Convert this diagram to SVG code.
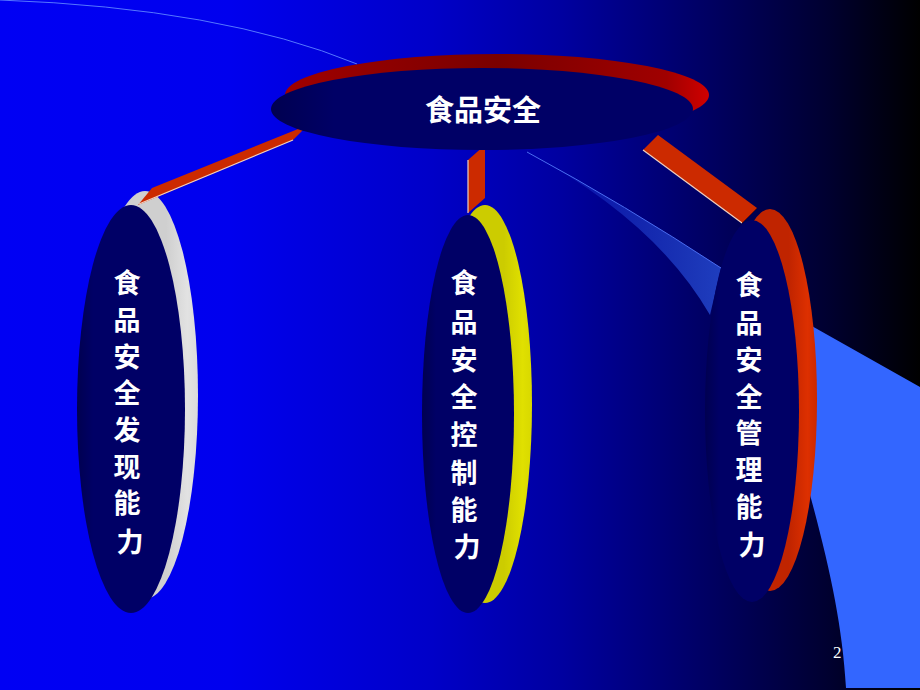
<svg xmlns="http://www.w3.org/2000/svg" width="920" height="690" viewBox="0 0 920 690">
<defs>
<linearGradient id="bg" x1="0" y1="0" x2="920" y2="0" gradientUnits="userSpaceOnUse">
<stop offset="0" stop-color="#0000f4"/>
<stop offset="0.25" stop-color="#0000ee"/>
<stop offset="0.47" stop-color="#0000c8"/>
<stop offset="0.61" stop-color="#0000a0"/>
<stop offset="0.76" stop-color="#000066"/>
<stop offset="0.9" stop-color="#000030"/>
<stop offset="1" stop-color="#000000"/>
</linearGradient>
<linearGradient id="wedge" x1="527" y1="0" x2="720" y2="0" gradientUnits="userSpaceOnUse">
<stop offset="0" stop-color="#3366ff" stop-opacity="0.05"/>
<stop offset="1" stop-color="#3366ff" stop-opacity="0.6"/>
</linearGradient>
<linearGradient id="rimTop" x1="0" y1="0" x2="1" y2="0">
<stop offset="0" stop-color="#a00000"/>
<stop offset="0.5" stop-color="#7a0000"/>
<stop offset="0.9" stop-color="#a00000"/>
<stop offset="1" stop-color="#d00000"/>
</linearGradient>
<linearGradient id="rimGray" x1="0" y1="0" x2="1" y2="0">
<stop offset="0.7" stop-color="#cfcfcf"/>
<stop offset="0.9" stop-color="#e2e2e2"/>
<stop offset="1" stop-color="#dadada"/>
</linearGradient>
<linearGradient id="rimYellow" x1="0" y1="0" x2="1" y2="0">
<stop offset="0.7" stop-color="#cccc00"/>
<stop offset="0.9" stop-color="#e0e000"/>
<stop offset="1" stop-color="#d8d800"/>
</linearGradient>
<linearGradient id="rimRed" x1="0" y1="0" x2="1" y2="0">
<stop offset="0.7" stop-color="#c02400"/>
<stop offset="0.9" stop-color="#dd3000"/>
<stop offset="1" stop-color="#cc2800"/>
</linearGradient>
<linearGradient id="face" x1="0" y1="0" x2="1" y2="0">
<stop offset="0" stop-color="#000050"/>
<stop offset="0.15" stop-color="#000066"/>
<stop offset="1" stop-color="#000066"/>
</linearGradient>
</defs>
<style>
.face{fill:url(#face);}
.lbl{font-family:"Noto Sans CJK SC","Noto Sans CJK TC",sans-serif;font-weight:bold;fill:#ffffff;text-anchor:middle;}
.bar{fill:#cc2a00;}
.hl{stroke:#f0d0c0;stroke-width:1.2;fill:none;}
</style>

<!-- background -->
<rect x="0" y="0" width="920" height="690" fill="url(#bg)"/>
<path d="M0,0 Q221,8 357,64" fill="none" stroke="#5577ff" stroke-width="1"/>
<path d="M810,325 L920,387 L920,688 L846,688 C842,620 828,560 806,480 L800,330 Z" fill="#3366ff"/>
<path d="M527,152 Q625,205 721,268 L710,315 Q655,220 527,152 Z" fill="url(#wedge)"/>
<path d="M527,152 Q625,205 721,268" fill="none" stroke="#4a6cf0" stroke-width="1"/>

<!-- child nodes -->
<g id="node-discover">
<ellipse cx="145" cy="395" rx="53" ry="204" fill="url(#rimGray)"/>
<ellipse class="face" cx="131" cy="409" rx="54" ry="204"/>
<text class="lbl" font-size="27">
<tspan x="130" y="293">食</tspan>
<tspan x="130" y="330">品</tspan>
<tspan x="130" y="367">安</tspan>
<tspan x="130" y="403">全</tspan>
<tspan x="130" y="440">发</tspan>
<tspan x="130" y="477">现</tspan>
<tspan x="130" y="513">能</tspan>
<tspan x="130" y="552">力</tspan>
</text>
</g>

<g id="node-control">
<ellipse cx="485" cy="404" rx="47" ry="199" fill="url(#rimYellow)"/>
<ellipse class="face" cx="468" cy="414" rx="46" ry="199"/>
<text class="lbl" font-size="27">
<tspan x="467" y="293">食</tspan>
<tspan x="467" y="332">品</tspan>
<tspan x="467" y="370">安</tspan>
<tspan x="467" y="407">全</tspan>
<tspan x="467" y="445">控</tspan>
<tspan x="467" y="483">制</tspan>
<tspan x="467" y="520">能</tspan>
<tspan x="467" y="557">力</tspan>
</text>
</g>

<g id="node-manage">
<ellipse cx="770" cy="400" rx="47" ry="191" fill="url(#rimRed)"/>
<ellipse class="face" cx="752" cy="411" rx="47" ry="191"/>
<text class="lbl" font-size="27">
<tspan x="752" y="295">食</tspan>
<tspan x="752" y="333">品</tspan>
<tspan x="752" y="370">安</tspan>
<tspan x="752" y="407">全</tspan>
<tspan x="752" y="443">管</tspan>
<tspan x="752" y="480">理</tspan>
<tspan x="752" y="517">能</tspan>
<tspan x="752" y="555">力</tspan>
</text>
</g>

<!-- connectors -->
<g id="connectors">
<polygon class="bar" points="308,125 152,188 138,205 293,140"/>
<line class="hl" x1="293" y1="140" x2="139" y2="204"/>
<polygon class="bar" points="468,160 485,145 485,198 468,213" fill="#dd3300"/>
<line class="hl" x1="468" y1="160" x2="468" y2="213"/>
<polygon class="bar" points="658,135 757,208 742,223 643,150"/>
<line class="hl" x1="643" y1="150" x2="742" y2="223"/>
<line x1="742" y1="223" x2="757" y2="208" stroke="#7a1000" stroke-width="1"/>
</g>

<!-- top node -->
<g id="node-root">
<ellipse cx="497" cy="95" rx="212" ry="41" fill="url(#rimTop)"/>
<ellipse class="face" cx="482" cy="109" rx="211" ry="41"/>
<text class="lbl" x="483" y="121" font-size="29">食品安全</text>
</g>

<text x="833" y="658" font-family="Liberation Serif, serif" font-size="17" fill="#ffffff">2</text>
</svg>
